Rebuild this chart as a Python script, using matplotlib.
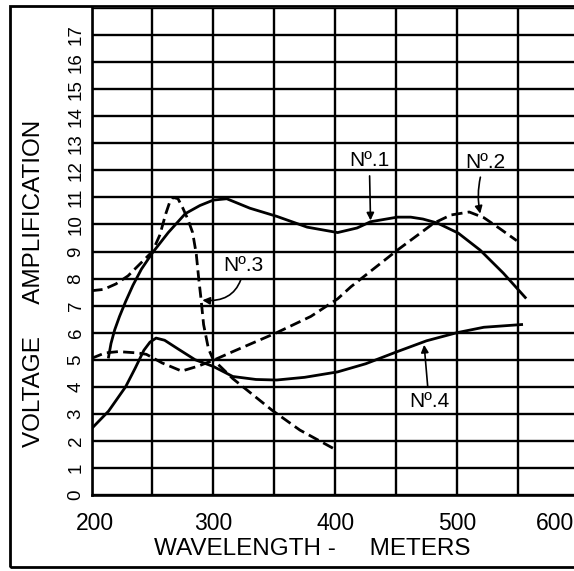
import matplotlib.pyplot as plt
from matplotlib.patches import Rectangle

plt.rcParams['font.family'] = ['Liberation Sans', 'DejaVu Sans']

# curve No.1 (solid)
wave_1 = [214, 216, 219, 223, 228, 234, 241, 250, 263, 277, 289, 300, 311, 330, 352, 377,
          402, 418, 429, 451, 462, 472, 484, 501, 519, 538, 556]
amp_1 = [5.1, 5.6, 6.1, 6.6, 7.15, 7.75, 8.35, 8.95, 9.7, 10.4, 10.7, 10.9, 10.95, 10.6,
         10.3, 9.9, 9.7, 9.87, 10.1, 10.27, 10.27, 10.2, 10.05, 9.68, 9.05, 8.2, 7.3]

# curve No.2 (dashed)
wave_2 = [200, 211, 222, 238, 245, 258, 274, 288, 301, 316, 352, 380, 402, 413,
          451, 481, 495, 510, 522, 535, 549]
amp_2 = [5.05, 5.25, 5.3, 5.25, 5.2, 4.88, 4.58, 4.77, 5.0, 5.3, 6.0, 6.6, 7.25, 7.7,
         9.05, 10.05, 10.35, 10.46, 10.25, 9.85, 9.4]

# curve No.3 (dashed)
wave_3 = [200, 210, 220, 230, 240, 250, 256, 261, 264, 267, 271, 275, 279, 283,
          286, 288, 290, 292, 296, 300, 316, 348, 371, 401]
amp_3 = [7.55, 7.6, 7.8, 8.1, 8.55, 9.0, 9.6, 10.4, 10.8, 11.0, 10.95, 10.6, 10.2, 9.7,
         8.9, 8.0, 7.2, 6.3, 5.4, 5.0, 4.3, 3.14, 2.4, 1.66]

# curve No.4 (solid)
wave_4 = [200, 214, 228, 236, 243, 248, 253, 260, 271, 285, 300, 316, 335, 352,
          375, 402, 425, 451, 475, 500, 522, 553]
amp_4 = [2.45, 3.1, 4.0, 4.7, 5.35, 5.65, 5.8, 5.72, 5.4, 5.0, 4.75, 4.38, 4.27, 4.25,
         4.35, 4.55, 4.85, 5.3, 5.7, 6.0, 6.2, 6.3]

x_grid = [200, 250, 300, 350, 400, 450, 500, 550]
x_labels = ['200', '300', '400', '500', '600']
y_labels = [str(i) for i in range(18)]

fig = plt.figure(figsize=(5.74, 5.71), dpi=100)
ax = fig.add_axes([91.5 / 574, 76 / 571, 1 - 91.5 / 574, 487 / 571])
ax.set_xlim(200, 596)
ax.set_ylim(0, 18)

for v in x_grid:
    ax.axvline(v, color='black', lw=1.7, zorder=1)
for h in range(19):
    ax.axhline(h, color='black', lw=1.7, zorder=1)

dash = (4.0, 1.9)
ax.plot(wave_1, amp_1, color='black', lw=2.0, zorder=3)
ax.plot(wave_2, amp_2, color='black', lw=2.0, dashes=dash, zorder=3)
ax.plot(wave_3, amp_3, color='black', lw=2.0, dashes=dash, zorder=3)
ax.plot(wave_4, amp_4, color='black', lw=2.0, zorder=3)

arrow = dict(arrowstyle='-|>', color='black', lw=1.2, mutation_scale=11,
             shrinkA=2, shrinkB=0)
ax.annotate('Nº.1', xy=(429, 10.15), xytext=(428, 12.35), ha='center', va='center',
            fontsize=15, arrowprops=arrow)
ax.annotate('Nº.2', xy=(519, 10.4), xytext=(523, 12.3), ha='center', va='center',
            fontsize=15, arrowprops=dict(arrow, connectionstyle='arc3,rad=0.15'))
ax.annotate('Nº.3', xy=(291, 7.2), xytext=(325, 8.5), ha='center', va='center',
            fontsize=15, arrowprops=dict(arrow, connectionstyle='arc3,rad=-0.5'))
ax.annotate('Nº.4', xy=(473, 5.55), xytext=(477, 3.45), ha='center', va='center',
            fontsize=15, arrowprops=arrow)

ax.set_xticks([203, 300, 400, 500, 580])
ax.set_xticklabels(x_labels, fontsize=16.5)
ax.set_yticks(range(18))
ax.set_yticklabels(y_labels, fontsize=13.5, rotation=90, va='center')
ax.tick_params(axis='x', length=0, pad=12)
ax.tick_params(axis='y', length=0, pad=5)

for side in ['top', 'right']:
    ax.spines[side].set_visible(False)
for side in ['left', 'bottom']:
    ax.spines[side].set_linewidth(1.9)

fig.text(34 / 574, 1 - 283 / 571, 'VOLTAGE     AMPLIFICATION', rotation=90,
         ha='center', va='center', fontsize=17.5)
fig.text(312 / 574, 1 - 549 / 571, 'WAVELENGTH -     METERS',
         ha='center', va='center', fontsize=17.5)

fig.patches.append(Rectangle((10 / 574, 4 / 571), 1.1, 561 / 571, fill=False,
                             lw=2.0, ec='black', transform=fig.transFigure,
                             figure=fig))

fig.savefig('out.png', dpi=100)
